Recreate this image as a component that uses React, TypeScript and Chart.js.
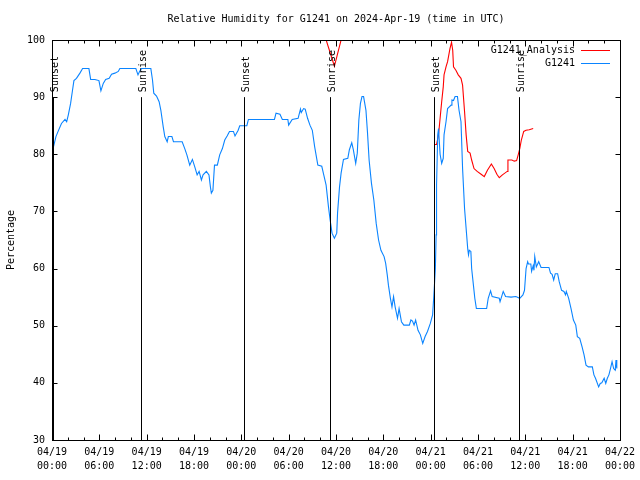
import React, { useEffect, useRef } from 'react';
import { Chart, registerables } from 'chart.js';

Chart.register(...registerables);

const TITLE = 'Relative Humidity for G1241 on 2024-Apr-19 (time in UTC)';
const Y_LABEL = 'Percentage';
const X_TICK_DATES = ['04/19', '04/19', '04/19', '04/19', '04/20', '04/20', '04/20', '04/20', '04/21', '04/21', '04/21', '04/21', '04/22'];
const X_TICK_TIMES = ['00:00', '06:00', '12:00', '18:00', '00:00', '06:00', '12:00', '18:00', '00:00', '06:00', '12:00', '18:00', '00:00'];
const Y_MIN = 30;
const Y_MAX = 100;
const SERIES_NAMES = ['G1241_Analysis', 'G1241'];

// hours since 04/19 00:00 UTC
const blueHours = [
  0.0, 0.17, 0.5, 0.8, 1.2, 1.65, 1.86, 2.07, 2.36, 2.6, 2.78, 3.1, 3.54, 3.88, 4.68, 4.9, 5.44, 5.95, 6.2, 6.5,
  6.8, 7.25, 7.55, 7.97, 8.4, 8.6, 10.63, 10.9, 11.1, 11.35, 12.53, 12.74, 12.9, 13.25, 13.58, 13.8, 14.1, 14.3, 14.6, 14.75,
  15.2, 15.4, 16.5, 16.83, 17.1, 17.46, 17.8, 18.1, 18.4, 18.65, 18.94, 19.15, 19.57, 19.9, 20.08, 20.2, 20.4, 20.6, 20.96, 21.26,
  21.6, 21.9, 22.2, 22.5, 23.0, 23.2, 23.6, 23.8, 24.7, 24.9, 28.2, 28.4, 28.9, 29.2, 29.9, 30.0, 30.45, 31.2, 31.5, 31.6,
  31.9, 32.1, 32.4, 32.7, 33.0, 33.3, 33.7, 34.2, 34.45, 34.75, 35.05, 35.26, 35.5, 35.8, 36.1, 36.2, 36.45, 36.65, 36.95, 37.5,
  37.7, 38.0, 38.2, 38.5, 38.7, 38.9, 39.1, 39.3, 39.5, 39.8, 40.0, 40.2, 40.5, 40.8, 41.1, 41.4, 41.7, 42.1, 42.3, 42.5,
  42.65, 42.9, 43.1, 43.3, 43.5, 43.8, 44.0, 44.3, 44.6, 45.3, 45.5, 45.7, 45.9, 46.1, 46.4, 46.7, 47.0, 47.3, 47.6, 47.96,
  48.25, 48.4, 48.6, 48.7, 48.75, 48.9, 49.0, 49.2, 49.4, 49.6, 49.7, 49.95, 50.15, 50.6, 50.7, 50.9, 51.1, 51.4, 51.6, 51.85,
  52.05, 52.3, 52.5, 52.7, 52.8, 52.9, 53.1, 53.2, 53.4, 53.6, 53.8, 55.1, 55.3, 55.6, 55.8, 56.7, 56.8, 57.0, 57.2, 57.5,
  58.2, 58.8, 59.3, 59.7, 59.9, 60.1, 60.3, 60.4, 60.7, 60.8, 61.0, 61.1, 61.2, 61.4, 61.7, 62.0, 63.0, 63.2, 63.4, 63.6,
  63.8, 64.1, 64.3, 64.6, 64.9, 65.1, 65.2, 65.5, 65.8, 66.1, 66.4, 66.6, 66.9, 67.2, 67.45, 67.7, 68.0, 68.5, 68.7, 68.9,
  69.3, 69.5, 69.7, 70.0, 70.2, 70.4, 70.6, 70.8, 71.0, 71.2, 71.4, 71.5, 71.6,
];
const blueValues = [
  81.0, 81.2, 83.1, 84.1, 85.4, 86.1, 85.7, 86.9, 88.9, 91.2, 92.9, 93.3, 94.2, 95.0, 95.0, 93.1, 93.1, 92.9, 91.1, 92.4,
  93.1, 93.3, 94.0, 94.2, 94.5, 95.0, 95.0, 93.9, 94.5, 95.0, 95.0, 93.0, 90.7, 90.2, 89.2, 87.7, 84.8, 83.1, 82.2, 83.1,
  83.1, 82.2, 82.2, 81.0, 79.9, 78.1, 79.1, 77.8, 76.4, 77.0, 75.5, 76.4, 77.0, 76.4, 74.3, 73.2, 73.7, 78.1, 78.1, 79.9,
  81.0, 82.5, 83.2, 84.0, 84.0, 83.2, 84.2, 85.0, 85.0, 86.1, 86.1, 87.2, 87.0, 86.1, 86.1, 85.1, 86.1, 86.3, 87.9, 87.3,
  88.0, 87.9, 86.3, 85.1, 84.2, 81.3, 78.1, 77.9, 76.4, 74.6, 70.8, 68.5, 66.2, 65.3, 66.2, 69.7, 74.3, 76.7, 79.1, 79.3,
  80.8, 82.0, 80.8, 78.4, 80.2, 86.0, 88.9, 90.1, 90.1, 87.7, 83.7, 79.0, 74.9, 72.0, 67.9, 65.0, 63.2, 62.1, 60.9, 58.9,
  57.1, 54.8, 53.3, 55.1, 53.3, 51.3, 53.0, 50.7, 50.1, 50.1, 51.0, 50.8, 50.1, 51.0, 49.2, 48.4, 46.9, 48.1, 49.0, 50.4,
  51.9, 55.1, 60.0, 65.9, 74.6, 83.4, 84.5, 80.0, 78.4, 79.3, 83.4, 85.7, 88.0, 88.6, 89.5, 89.4, 90.1, 90.1, 87.7, 85.7,
  77.5, 70.5, 67.0, 63.5, 62.4, 63.2, 63.0, 60.0, 57.4, 54.8, 53.0, 53.0, 54.8, 56.1, 55.1, 54.8, 54.2, 55.1, 56.0, 55.1,
  55.0, 55.1, 54.8, 55.4, 56.2, 60.0, 61.2, 60.8, 60.8, 59.5, 60.5, 59.7, 62.1, 60.3, 61.2, 60.2, 60.2, 59.2, 59.0, 58.0,
  59.1, 59.1, 57.7, 56.2, 56.0, 55.4, 56.0, 54.8, 53.0, 51.0, 50.1, 48.1, 47.8, 46.3, 44.9, 43.1, 42.8, 42.8, 41.4, 40.8,
  39.3, 39.9, 40.0, 40.8, 39.9, 40.8, 41.4, 42.5, 43.7, 42.5, 42.2, 44.0, 42.5,
];

const redHours = [
  34.3, 35.8, 37.2, 42.0,
  48.55, 48.75, 49.0, 49.2, 49.4, 49.6, 49.7, 49.95, 50.15, 50.45, 50.65, 50.8, 50.9, 51.2, 51.5, 51.85,
  52.05, 52.3, 52.5, 52.7, 53.0, 53.2, 53.5, 53.9, 54.4, 54.8, 55.2, 55.7, 56.05, 56.4, 56.7, 57.1, 57.7, 57.8,
  58.3, 58.6, 58.9, 59.1, 59.3, 59.5, 59.8, 60.1, 60.5, 61.0,
];
const redValues = [
  102.0, 95.4, 103.0, null,
  81.7, 81.7, 83.4, 86.3, 89.2, 91.8, 93.9, 95.3, 96.2, 98.5, 99.6, 98.2, 95.3, 94.7, 93.9, 93.3,
  92.1, 87.5, 83.4, 80.5, 80.2, 79.0, 77.5, 77.0, 76.5, 76.1, 77.2, 78.3, 77.5, 76.5, 75.9, 76.4, 77.0, 79.0,
  79.0, 78.8, 78.9, 79.9, 81.0, 82.5, 84.0, 84.2, 84.3, 84.5,
];

const sunHours = [0.16, 11.26, 24.33, 35.2, 48.37, 59.26];
const sunLabels = ['Sunset', 'Sunrise', 'Sunset', 'Sunrise', 'Sunset', 'Sunrise'];
const SUN_LINE_TOP = 90;

const FONT = "'DejaVu Sans Mono', 'Liberation Mono', monospace";
const BLUE = '#0a84ff';
const RED = '#ff0000';

const overlayPlugin = {
  id: 'gnuplotOverlay',
  afterDatasetsDraw(chart: any) {
    const ctx = chart.ctx;
    const xs = chart.scales.x;
    const ys = chart.scales.y;
    ctx.save();
    ctx.strokeStyle = '#000';
    ctx.lineWidth = 1;
    ctx.fillStyle = '#000';
    ctx.font = `10px ${FONT}`;
    ctx.textBaseline = 'alphabetic';
    ctx.textAlign = 'left';
    sunHours.forEach((h, i) => {
      const x = Math.round(xs.getPixelForValue(h)) + 0.5;
      const y1 = ys.getPixelForValue(SUN_LINE_TOP);
      const y2 = ys.getPixelForValue(Y_MIN);
      ctx.beginPath();
      ctx.moveTo(x, y1);
      ctx.lineTo(x, y2);
      ctx.stroke();
      ctx.save();
      ctx.translate(x + 4.5, y1 - 5);
      ctx.rotate(-Math.PI / 2);
      ctx.fillText(sunLabels[i], 0, 0);
      ctx.restore();
    });
    ctx.restore();
  },
  afterDraw(chart: any) {
    const ctx = chart.ctx;
    const a = chart.chartArea;
    const xs = chart.scales.x;
    const ys = chart.scales.y;
    const L = Math.round(a.left) + 0.5;
    const R = Math.round(a.right) + 0.5;
    const T = Math.round(a.top) + 0.5;
    const B = Math.round(a.bottom) + 0.5;
    ctx.save();
    ctx.strokeStyle = '#000';
    ctx.lineWidth = 1;
    ctx.strokeRect(L, T, R - L, B - T);
    ctx.beginPath();
    for (let h = 0; h <= 72; h += 2) {
      const x = Math.round(xs.getPixelForValue(h)) + 0.5;
      const len = h % 6 === 0 ? 6 : 3;
      ctx.moveTo(x, B);
      ctx.lineTo(x, B - len);
      ctx.moveTo(x, T);
      ctx.lineTo(x, T + len);
    }
    for (let v = Y_MIN; v <= Y_MAX; v += 10) {
      const y = Math.round(ys.getPixelForValue(v)) + 0.5;
      ctx.moveTo(L, y);
      ctx.lineTo(L + 5, y);
      ctx.moveTo(R, y);
      ctx.lineTo(R - 5, y);
    }
    ctx.stroke();

    ctx.fillStyle = '#000';
    ctx.font = `10px ${FONT}`;
    ctx.textAlign = 'center';
    ctx.textBaseline = 'middle';
    ctx.fillText(TITLE, (a.left + a.right) / 2, 19);
    ctx.save();
    ctx.translate(11, (a.top + a.bottom) / 2);
    ctx.rotate(-Math.PI / 2);
    ctx.fillText(Y_LABEL, 0, 0);
    ctx.restore();
    const colors = [RED, BLUE];
    SERIES_NAMES.forEach((name, i) => {
      const y = 50 + i * 13;
      ctx.textAlign = 'right';
      ctx.fillStyle = '#000';
      ctx.fillText(name, 575, y);
      ctx.strokeStyle = colors[i];
      ctx.beginPath();
      ctx.moveTo(581, Math.round(y) + 0.5);
      ctx.lineTo(610, Math.round(y) + 0.5);
      ctx.stroke();
    });
    ctx.restore();
  },
};

export default function App() {
  const ref = useRef<HTMLCanvasElement | null>(null);
  useEffect(() => {
    if (!ref.current) return;
    const blue = blueHours.map((h, i) => ({ x: h, y: blueValues[i] }));
    const red = redHours.map((h, i) => ({ x: h, y: redValues[i] }));
    const chart = new Chart(ref.current, {
      type: 'line',
      data: {
        datasets: [
          {
            label: SERIES_NAMES[0],
            data: red as any,
            borderColor: RED,
            borderWidth: 1.1,
            pointRadius: 0,
            tension: 0,
            spanGaps: false,
            order: 1,
          },
          {
            label: SERIES_NAMES[1],
            data: blue as any,
            borderColor: BLUE,
            borderWidth: 1.1,
            pointRadius: 0,
            tension: 0,
            order: 0,
          },
        ],
      },
      options: {
        animation: false,
        responsive: false,
        events: [],
        layout: { padding: { top: 40, right: 19, left: 0, bottom: 0 } },
        plugins: {
          legend: { display: false },
          title: { display: false },
          tooltip: { enabled: false },
        },
        scales: {
          x: {
            type: 'linear',
            min: 0,
            max: 72,
            grid: { display: false, drawTicks: false },
            border: { display: false },
            ticks: {
              stepSize: 6,
              autoSkip: false,
              maxRotation: 0,
              padding: 5,
              color: '#000',
              font: { family: FONT, size: 10, lineHeight: 1.4 },
              callback: (v: any) => {
                const i = Math.round(Number(v) / 6);
                return [X_TICK_DATES[i], X_TICK_TIMES[i]];
              },
            },
            afterFit: (s: any) => {
              s.height = 40;
            },
          },
          y: {
            type: 'linear',
            min: Y_MIN,
            max: Y_MAX,
            grid: { display: false, drawTicks: false },
            border: { display: false },
            ticks: {
              stepSize: 10,
              padding: 7,
              color: '#000',
              font: { family: FONT, size: 10 },
            },
            afterFit: (s: any) => {
              s.width = 52;
            },
          },
        },
      },
      plugins: [overlayPlugin],
    });
    return () => chart.destroy();
  }, []);
  return (
    <div style={{ position: 'absolute', left: 0, top: 0, width: 640, height: 480, background: '#fff' }}>
      <canvas ref={ref} width={640} height={480} style={{ display: 'block' }} />
    </div>
  );
}
